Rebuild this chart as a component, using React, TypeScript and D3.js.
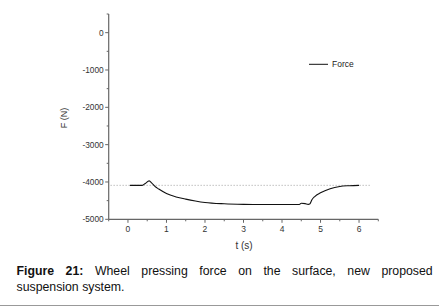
import React, { useEffect, useRef } from "react";
import * as d3 from "d3";

const timeS = [0.05, 0.37, 0.45, 0.55, 0.62, 0.7, 0.8, 1.0, 1.25, 1.5, 1.75, 2.0, 2.5, 3.0, 3.5, 4.0, 4.45, 4.5, 4.6, 4.68, 4.72, 4.78, 4.85, 5.0, 5.25, 5.5, 5.75, 6.0];
const force = [-4090, -4090, -4040, -3970, -4030, -4120, -4190, -4310, -4400, -4460, -4510, -4550, -4585, -4600, -4605, -4605, -4605, -4570, -4580, -4600, -4590, -4470, -4390, -4290, -4180, -4120, -4100, -4090];
const refLevel = -4090;
const xTicks = [0, 1, 2, 3, 4, 5, 6];
const yTicks = [0, -1000, -2000, -3000, -4000, -5000];
const captionBoldWords = ["Figure", "21:"];
const captionLine1 = ["Wheel", "pressing", "force", "on", "the", "surface,", "new", "proposed"];
const captionLine2 = "suspension system.";

export default function App() {
  const ref = useRef<SVGSVGElement>(null);
  useEffect(() => {
    const svg = d3.select(ref.current!);
    svg.selectAll("*").remove();
    const x = d3.scaleLinear().domain([-0.5, 6.5]).range([108.7, 378.3]);
    const y = d3.scaleLinear().domain([-5000, 500]).range([219.3, 14]);
    const axisColor = "#666";
    const font = "Arial, 'Liberation Sans', sans-serif";

    svg.append("line")
      .attr("x1", x(-0.45)).attr("x2", x(6.3))
      .attr("y1", y(refLevel)).attr("y2", y(refLevel))
      .attr("stroke", "#888").attr("stroke-width", 0.8).attr("stroke-dasharray", "1,2");

    svg.append("line").attr("x1", x(-0.5)).attr("x2", x(-0.5)).attr("y1", y(500)).attr("y2", y(-5000))
      .attr("stroke", axisColor).attr("stroke-width", 1.2);
    svg.append("line").attr("x1", x(-0.5)).attr("x2", x(6.5)).attr("y1", y(-5000)).attr("y2", y(-5000))
      .attr("stroke", axisColor).attr("stroke-width", 1.2);

    const xMinor = d3.range(-0.5, 6.51, 0.5);
    xMinor.forEach((t) => {
      const major = Math.abs(t - Math.round(t)) < 1e-6;
      svg.append("line").attr("x1", x(t)).attr("x2", x(t))
        .attr("y1", y(-5000)).attr("y2", y(-5000) + (major ? 3.5 : 2))
        .attr("stroke", axisColor).attr("stroke-width", 1);
    });
    xTicks.forEach((t) => {
      svg.append("text").attr("x", x(t)).attr("y", y(-5000) + 13)
        .attr("text-anchor", "middle").attr("font-family", font).attr("font-size", 8.5)
        .attr("fill", "#333").text(String(t));
    });
    const yMinor = d3.range(-5000, 501, 500);
    yMinor.forEach((v) => {
      const major = v % 1000 === 0;
      svg.append("line").attr("x1", x(-0.5)).attr("x2", x(-0.5) - (major ? 3.5 : 2))
        .attr("y1", y(v)).attr("y2", y(v))
        .attr("stroke", axisColor).attr("stroke-width", 1);
    });
    yTicks.forEach((v) => {
      svg.append("text").attr("x", x(-0.5) - 5).attr("y", y(v) + 3)
        .attr("text-anchor", "end").attr("font-family", font).attr("font-size", 8.3)
        .attr("fill", "#333").text(String(v));
    });

    svg.append("text").attr("x", 244).attr("y", 249)
      .attr("text-anchor", "middle").attr("font-family", font).attr("font-size", 10)
      .attr("fill", "#333").text("t (s)");
    svg.append("text").attr("transform", "translate(67,118) rotate(-90)")
      .attr("text-anchor", "middle").attr("font-family", font).attr("font-size", 9)
      .attr("fill", "#333").text("F (N)");

    const data = timeS.map((t, i) => [t, force[i]] as [number, number]);
    const line = d3.line<[number, number]>().x((d) => x(d[0])).y((d) => y(d[1])).curve(d3.curveMonotoneX);
    svg.append("path").attr("d", line(data)!).attr("fill", "none")
      .attr("stroke", "#111").attr("stroke-width", 1.1);

    svg.append("line").attr("x1", 309).attr("x2", 328).attr("y1", 64.3).attr("y2", 64.3)
      .attr("stroke", "#111").attr("stroke-width", 1);
    svg.append("text").attr("x", 332).attr("y", 67.3).attr("font-family", font).attr("font-size", 8.5)
      .attr("fill", "#222").text("Force");

    const left = 16.5, right = 432.7, base1 = 275, base2 = 290.5;
    const allWords = [
      ...captionBoldWords.map((w) => ({ w, b: true })),
      ...captionLine1.map((w) => ({ w, b: false })),
    ];
    const nodes = allWords.map((o) =>
      svg.append("text").attr("y", base1).attr("font-family", font).attr("font-size", 12.3)
        .attr("font-weight", o.b ? "bold" : "normal").attr("fill", "#111").text(o.w));
    const widths = nodes.map((n) => (n.node() as SVGTextElement).getComputedTextLength());
    const gap = (right - left - d3.sum(widths)) / (nodes.length - 1);
    let cx = left;
    nodes.forEach((n, i) => {
      n.attr("x", cx);
      cx += widths[i] + gap;
    });
    svg.append("text").attr("x", left).attr("y", base2).attr("font-family", font)
      .attr("font-size", 12.3).attr("fill", "#111").text(captionLine2);

    svg.append("line").attr("x1", 0).attr("x2", 439).attr("y1", 305.5).attr("y2", 305.5)
      .attr("stroke", "#999").attr("stroke-width", 1);
  }, []);
  return (
    <svg ref={ref} width={439} height={306}
      style={{ position: "absolute", left: 0, top: 0, background: "#fff", display: "block" }} />
  );
}
